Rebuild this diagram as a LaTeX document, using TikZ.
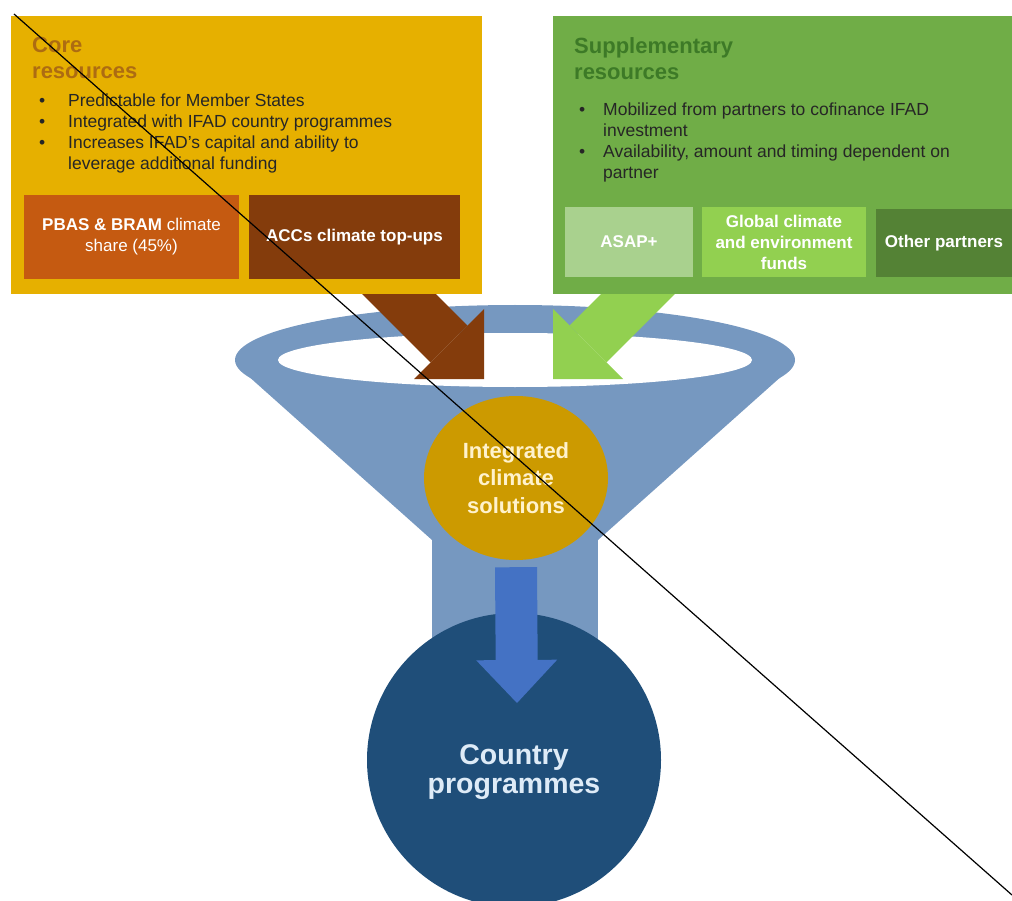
\documentclass[tikz,border=0pt]{standalone}
\usepackage{fontspec}
\setmainfont{Liberation Sans}
\usetikzlibrary{arrows.meta,shapes.geometric}
\definecolor{coreyellow}{HTML}{E6B000}
\definecolor{coretitle}{HTML}{AD6C12}
\definecolor{pbasorange}{HTML}{C55A11}
\definecolor{accbrown}{HTML}{843C0C}
\definecolor{suppgreen}{HTML}{70AD47}
\definecolor{supptitle}{HTML}{3D7A27}
\definecolor{asapgreen}{HTML}{A9D18E}
\definecolor{fundgreen}{HTML}{92D050}
\definecolor{othergreen}{HTML}{548235}
\definecolor{funnelblue}{HTML}{7698C0}
\definecolor{solgold}{HTML}{CC9A00}
\definecolor{solcream}{HTML}{FFF2CC}
\definecolor{cpblue}{HTML}{1F4E79}
\definecolor{cptext}{HTML}{DEEBF7}
\definecolor{cparrow}{HTML}{4472C4}
\newcommand\boxfont{\fontsize{17}{21}\selectfont\bfseries}
\tikzset{
  panel/.style={rectangle, inner sep=0pt},
  box/.style={rectangle, inner sep=0pt, text=white, font=\boxfont, align=center},
  title/.style={anchor=north west, inner sep=0pt, align=left,
    font=\fontsize{22}{26}\selectfont\bfseries},
  bullets/.style={anchor=north west, inner sep=0pt, align=left, text=black!85,
    font=\fontsize{17.5}{21}\selectfont},
  bigarrow/.style={line width=52pt, -{Triangle[width=99pt, length=49.5pt, line width=0pt]}},
}
\begin{document}
\begin{tikzpicture}[x=1pt, y=-1pt]
  \useasboundingbox (0,0) rectangle (1012,901);
  \clip (0,0) rectangle (1012,901);
  % funnel
  \fill [funnelblue] (515,360) ellipse [x radius=280pt, y radius=55pt];
  \fill [funnelblue] (237,366) -- (432,540) -- (598,540) -- (793,366) -- cycle;
  \fill [funnelblue] (432,530) rectangle (598,660);
  \fill [white] (515,360) ellipse [x radius=237pt, y radius=27pt];
  % arrows into the funnel
  \coordinate (browntail) at (360,255);
  \coordinate (browntip) at (484,379);
  \coordinate (greentail) at (677,255);
  \coordinate (greentip) at (553,379);
  \draw [bigarrow, accbrown] (browntail) -- (browntip);
  \draw [bigarrow, fundgreen] (greentail) -- (greentip);
  % core resources
  \node [panel, fill=coreyellow, minimum width=471pt, minimum height=278pt] (core) at (246.5,155) {};
  \node [title, text=coretitle] (coretitle) at (32,37) {Core\\resources};
  \node [bullets] (corelist) at (39,94) {\makebox[29pt][l]{\textbullet}Predictable for Member States\\
    \makebox[29pt][l]{\textbullet}Integrated with IFAD country programmes\\
    \makebox[29pt][l]{\textbullet}Increases IFAD's capital and ability to\\
    \hspace*{29pt}leverage additional funding};
  \node [box, fill=pbasorange, minimum width=215pt, minimum height=84pt] (pbas) at (131.5,237)
    {PBAS \& BRAM {\mdseries climate}\\{\mdseries share (45\%)}};
  \node [box, fill=accbrown, minimum width=211pt, minimum height=84pt] (accs) at (354.5,237)
    {ACCs climate top-ups};
  % supplementary resources
  \node [panel, fill=suppgreen, minimum width=459pt, minimum height=278pt] (supp) at (782.5,155) {};
  \node [title, text=supptitle] (supptitle) at (574,37) {Supplementary\\resources};
  \node [bullets] (supplist) at (579,103) {\makebox[24pt][l]{\textbullet}Mobilized from partners to cofinance IFAD\\
    \hspace*{24pt}investment\\
    \makebox[24pt][l]{\textbullet}Availability, amount and timing dependent on\\
    \hspace*{24pt}partner};
  \node [box, fill=asapgreen, minimum width=128pt, minimum height=70pt] (asap) at (629,242) {ASAP+};
  \node [box, fill=fundgreen, minimum width=164pt, minimum height=70pt] (funds) at (784,242)
    {Global climate\\and environment\\funds};
  \node [box, fill=othergreen, minimum width=136pt, minimum height=68pt] (other) at (944,243)
    {Other partners};
  % solutions and programmes
  \node [ellipse, fill=solgold, minimum width=184pt, minimum height=164pt, inner sep=0pt,
    text=solcream, align=center, font=\fontsize{22}{27.5}\selectfont\bfseries] (icsol) at (516,478)
    {Integrated\\climate\\solutions};
  \node [circle, fill=cpblue, minimum size=294pt, inner sep=0pt] (cprog) at (514,760) {};
  \coordinate (cptip) at (517,703);
  \draw [cparrow, line width=42pt, -{Triangle[width=81pt, length=43pt, line width=0pt]}]
    ([yshift=-7pt]icsol.south) -- (cptip);
  \node [align=center, inner sep=0pt, text=cptext, font=\fontsize{28.5}{28.5}\selectfont\bfseries]
    (cplabel) at ([yshift=-12pt]cprog.center) {Country\\programmes};
  \draw [line width=1.2pt] (14,14) -- (1012,895);
\end{tikzpicture}
\end{document}
